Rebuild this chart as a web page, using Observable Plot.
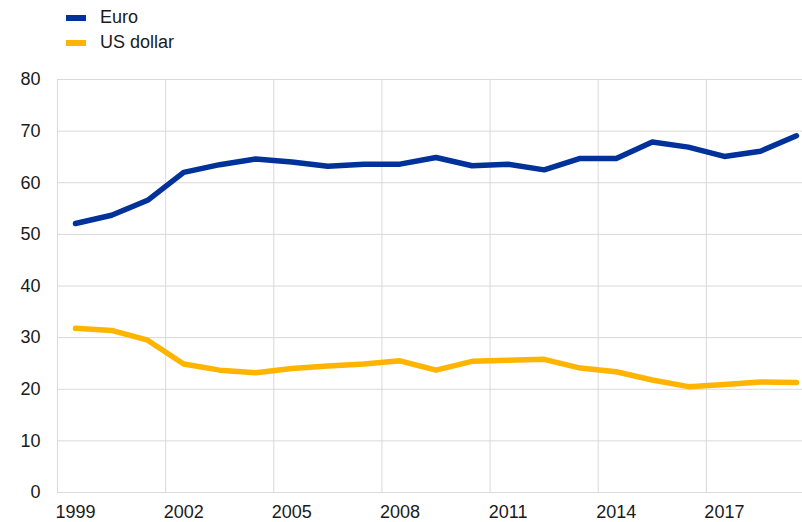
<!DOCTYPE html>
<html><head><meta charset="utf-8">
<script src="https://cdn.jsdelivr.net/npm/d3@7"></script>
<script src="https://cdn.jsdelivr.net/npm/@observablehq/plot@0.6"></script>
<style>
body{margin:0;background:#fff;font-family:"Liberation Sans",Arial,sans-serif;}
#wrap{position:relative;width:802px;height:522px;overflow:hidden;}
.legend{position:absolute;left:66px;top:5px;font-size:18px;color:#1a1a1a;line-height:25px;}
.legend div{display:flex;align-items:center;}
.legend span.sw{display:inline-block;width:20px;height:6px;margin-right:14px;}
</style>
</head><body>
<div id="wrap"></div>
<script>
const years = [1999,2000,2001,2002,2003,2004,2005,2006,2007,2008,2009,2010,2011,2012,2013,2014,2015,2016,2017,2018,2019];
const euro = [52.1,53.7,56.6,62.0,63.5,64.6,64.0,63.2,63.6,63.6,64.9,63.3,63.6,62.5,64.7,64.7,67.9,66.9,65.1,66.1,69.1];
const usd = [31.8,31.4,29.5,24.9,23.7,23.2,24.0,24.5,24.9,25.5,23.7,25.4,25.6,25.8,24.1,23.4,21.8,20.5,20.9,21.4,21.3];
const seriesNames = ["Euro","US dollar"];
const seriesColors = ["#003299","#ffb400"];
const xTicks = [1999,2002,2005,2008,2011,2014,2017];
const yTicks = [0,10,20,30,40,50,60,70,80];
const xBoundaries = [2001.5,2004.5,2007.5,2010.5,2013.5,2016.5];

const rows = [];
years.forEach((y,i)=>{
  rows.push({year:y, value:euro[i], series:seriesNames[0]});
  rows.push({year:y, value:usd[i], series:seriesNames[1]});
});

const chart = Plot.plot({
  width: 802, height: 522,
  marginLeft: 56, marginTop: 79, marginBottom: 30, marginRight: 0,
  style: {fontFamily: '"Liberation Sans", Arial, sans-serif', fontSize: "18px", color: "#1a1a1a", background: "#fff"},
  x: {domain: [1998.5, 2019.5], range: [57, 814]},
  y: {domain: [0, 80], range: [492, 79]},
  color: {domain: seriesNames, range: seriesColors},
  marks: [
    Plot.ruleY(yTicks.filter(d=>d>0), {x1: 1998.5, x2: 2019.5, stroke: "#d9d9d9", strokeWidth: 1}),
    Plot.ruleX(xBoundaries, {y1: 0, y2: 80, stroke: "#d9d9d9", strokeWidth: 1}),
    Plot.ruleX([1998.5], {y1: 0, y2: 80, stroke: "#d9d9d9", strokeWidth: 1}),
    Plot.ruleY([0], {x1: 1998.5, x2: 2019.5, stroke: "#d9d9d9", strokeWidth: 1}),
    Plot.axisY({ticks: yTicks, tickSize: 0, tickPadding: 16, label: null, fontSize: 18}),
    Plot.axisX({ticks: xTicks, tickSize: 0, tickPadding: 13, tickFormat: d => String(d), label: null, fontSize: 18}),
    Plot.lineY(rows, {x: "year", y: "value", stroke: "series", strokeWidth: 5.5, strokeLinecap: "round", strokeLinejoin: "round"})
  ]
});
const wrap = document.getElementById("wrap");
wrap.appendChild(chart);
const legend = document.createElement("div");
legend.className = "legend";
seriesNames.forEach((n,i)=>{
  const row = document.createElement("div");
  const sw = document.createElement("span");
  sw.className = "sw"; sw.style.background = seriesColors[i];
  row.appendChild(sw);
  row.appendChild(document.createTextNode(n));
  legend.appendChild(row);
});
wrap.appendChild(legend);
</script>
</body></html>
